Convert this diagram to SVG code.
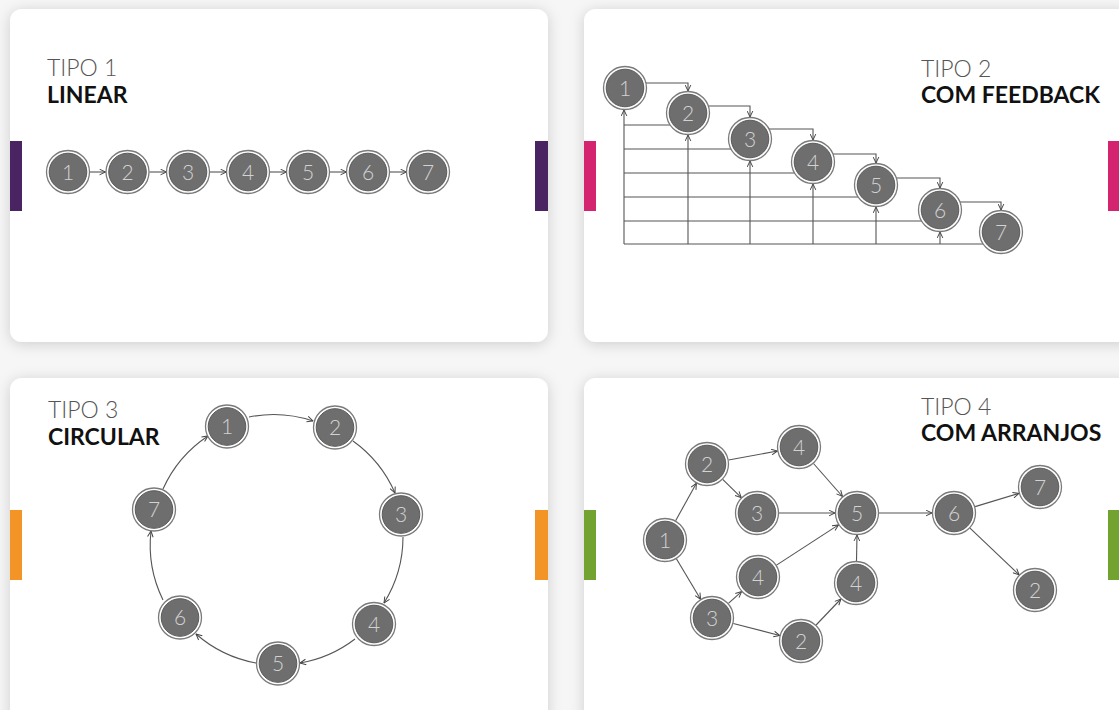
<svg xmlns="http://www.w3.org/2000/svg" width="1119" height="710" viewBox="0 0 1119 710">
<defs>
<filter id="sh" x="-10%" y="-10%" width="120%" height="120%">
<feDropShadow dx="0" dy="2" stdDeviation="7" flood-color="#000" flood-opacity="0.17"/>
</filter>
<marker id="ah" viewBox="0 0 10 10" refX="9.5" refY="5" markerWidth="7" markerHeight="7" markerUnits="userSpaceOnUse" orient="auto">
<path d="M1,1 L9.5,5 L1,9" fill="none" stroke="#444" stroke-width="1.4"/>
</marker>
<g id="nd">
<circle r="21.5" fill="#fff" stroke="#7a7a7a" stroke-width="1.3"/>
<circle r="18.8" fill="#6e6e6e" stroke="#5a5a5a" stroke-width="1"/>
</g>
</defs>
<style>
.card{fill:#fff;filter:url(#sh)}
.t1{font-family:Lato,"Open Sans",sans-serif;font-weight:300;font-size:23px;fill:#555}
.t2{font-family:Lato,"Open Sans",sans-serif;font-weight:700;font-size:23px;fill:#111}
.n{font-family:Lato,"Open Sans",sans-serif;font-weight:300;font-size:21px;fill:#d2d2d2;text-anchor:middle}
.c{fill:none;stroke:#555;stroke-width:1.1}
.ca{fill:none;stroke:#555;stroke-width:1.1;marker-end:url(#ah)}
</style>
<rect width="1119" height="710" fill="#f6f6f6"/>

<!-- cards -->
<g id="card1">
<rect class="card" x="10" y="9" width="538" height="333" rx="12"/>
<rect x="10" y="141" width="12" height="70" fill="#4a2363"/>
<rect x="535" y="141" width="13" height="70" fill="#4a2363"/>
<text class="t1" x="47" y="76">TIPO 1</text>
<text class="t2" x="47" y="103">LINEAR</text>
</g>
<g id="card2">
<rect class="card" x="584" y="9" width="550" height="333" rx="12"/>
<rect x="584" y="141" width="12" height="70" fill="#d5246f"/>
<rect x="1108" y="141" width="12" height="70" fill="#d5246f"/>
<text class="t1" x="921" y="77">TIPO 2</text>
<text class="t2" x="921" y="103">COM FEEDBACK</text>
</g>
<g id="card3">
<rect class="card" x="10" y="378" width="538" height="350" rx="12"/>
<rect x="10" y="510" width="12" height="70" fill="#f29426"/>
<rect x="535" y="510" width="13" height="70" fill="#f29426"/>
<text class="t1" x="48" y="418">TIPO 3</text>
<text class="t2" x="48" y="445">CIRCULAR</text>
</g>
<g id="card4">
<rect class="card" x="584" y="378" width="550" height="350" rx="12"/>
<rect x="584" y="510" width="12" height="70" fill="#72a22f"/>
<rect x="1108" y="510" width="12" height="70" fill="#72a22f"/>
<text class="t1" x="921" y="415">TIPO 4</text>
<text class="t2" x="921" y="441">COM ARRANJOS</text>
</g>

<!-- connectors -->
<g id="connectors">
<!-- linear -->
<path class="ca" d="M89.5,172 H105.5"/>
<path class="ca" d="M149.5,172 H166.5"/>
<path class="ca" d="M210,172 H226.5"/>
<path class="ca" d="M270,172 H286.5"/>
<path class="ca" d="M330,172 H346.5"/>
<path class="ca" d="M390,172 H406.5"/>
<!-- feedback: forward -->
<path class="ca" d="M640,83 H688 V91"/>
<path class="ca" d="M703,106 H750 V117"/>
<path class="ca" d="M765,129 H813 V140"/>
<path class="ca" d="M828,154 H876 V163"/>
<path class="ca" d="M891,178 H940 V188"/>
<path class="ca" d="M955,202 H1001 V210"/>
<!-- feedback: returns -->
<path class="c" d="M688,125 H624"/>
<path class="c" d="M750,149 H624"/>
<path class="c" d="M813,173 H624"/>
<path class="c" d="M876,197 H624"/>
<path class="c" d="M940,221 H624"/>
<path class="c" d="M1001,244 H624"/>
<path class="ca" d="M624,244 V110"/>
<path class="ca" d="M688,244 V135"/>
<path class="ca" d="M750,244 V161"/>
<path class="ca" d="M813,244 V184"/>
<path class="ca" d="M876,244 V207"/>
<path class="ca" d="M940,244 V232"/>
<!-- circular -->
<path class="ca" d="M249,417 A125,125 0 0 1 313,421"/>
<path class="ca" d="M353,441 A125,125 0 0 1 395,493"/>
<path class="ca" d="M403,537 A125,125 0 0 1 384,603"/>
<path class="ca" d="M355,639 A125,125 0 0 1 300,663"/>
<path class="ca" d="M256,663 A125,125 0 0 1 196,634"/>
<path class="ca" d="M163,600 A125,125 0 0 1 151,531"/>
<path class="ca" d="M163,489 A125,125 0 0 1 208,436"/>
<!-- arranjos -->
<path class="ca" d="M675.6,520.7 L696.4,483.3"/>
<path class="ca" d="M676.4,558.8 L700.6,599.2"/>
<path class="ca" d="M728.6,460 L777.4,451"/>
<path class="ca" d="M722.7,479.4 L741.3,497.6"/>
<path class="ca" d="M813.5,463.5 L842.5,496.5"/>
<path class="ca" d="M779,513 L835,513"/>
<path class="ca" d="M776.5,565.1 L838.5,524.9"/>
<path class="ca" d="M728.4,603.3 L741.6,591.6"/>
<path class="ca" d="M733.3,623.5 L779.7,635.5"/>
<path class="ca" d="M816.1,625 L840.9,599"/>
<path class="ca" d="M856.5,561 L857,535"/>
<path class="ca" d="M879,513 L932,513"/>
<path class="ca" d="M975.1,506.6 L1018.9,493.4"/>
<path class="ca" d="M970,528.2 L1019.1,574.8"/>
</g>

<!-- nodes: linear -->
<g id="l1"><use href="#nd" x="68" y="172"/><text class="n" x="68" y="179.5">1</text></g>
<g id="l2"><use href="#nd" x="127.5" y="172"/><text class="n" x="127.5" y="179.5">2</text></g>
<g id="l3"><use href="#nd" x="188" y="172"/><text class="n" x="188" y="179.5">3</text></g>
<g id="l4"><use href="#nd" x="248" y="172"/><text class="n" x="248" y="179.5">4</text></g>
<g id="l5"><use href="#nd" x="308" y="172"/><text class="n" x="308" y="179.5">5</text></g>
<g id="l6"><use href="#nd" x="368" y="172"/><text class="n" x="368" y="179.5">6</text></g>
<g id="l7"><use href="#nd" x="428" y="172"/><text class="n" x="428" y="179.5">7</text></g>

<!-- nodes: feedback -->
<g id="f1"><use href="#nd" x="625" y="88"/><text class="n" x="625" y="95.5">1</text></g>
<g id="f2"><use href="#nd" x="688" y="113"/><text class="n" x="688" y="120.5">2</text></g>
<g id="f3"><use href="#nd" x="750" y="139"/><text class="n" x="750" y="146.5">3</text></g>
<g id="f4"><use href="#nd" x="813" y="162"/><text class="n" x="813" y="169.5">4</text></g>
<g id="f5"><use href="#nd" x="876" y="185"/><text class="n" x="876" y="192.5">5</text></g>
<g id="f6"><use href="#nd" x="940" y="210"/><text class="n" x="940" y="217.5">6</text></g>
<g id="f7"><use href="#nd" x="1001" y="232"/><text class="n" x="1001" y="239.5">7</text></g>

<!-- nodes: circular -->
<g id="c1"><use href="#nd" x="227" y="426.5"/><text class="n" x="227" y="434">1</text></g>
<g id="c2"><use href="#nd" x="335" y="427.5"/><text class="n" x="335" y="435">2</text></g>
<g id="c3"><use href="#nd" x="401" y="514.5"/><text class="n" x="401" y="522">3</text></g>
<g id="c4"><use href="#nd" x="374" y="624"/><text class="n" x="374" y="631.5">4</text></g>
<g id="c5"><use href="#nd" x="278" y="663.5"/><text class="n" x="278" y="671">5</text></g>
<g id="c6"><use href="#nd" x="180" y="617.5"/><text class="n" x="180" y="625">6</text></g>
<g id="c7"><use href="#nd" x="154" y="509.5"/><text class="n" x="154" y="517">7</text></g>

<!-- nodes: arranjos -->
<g id="a1"><use href="#nd" x="665" y="540"/><text class="n" x="665" y="547.5">1</text></g>
<g id="a2a"><use href="#nd" x="707" y="464"/><text class="n" x="707" y="471.5">2</text></g>
<g id="a4a"><use href="#nd" x="799" y="447"/><text class="n" x="799" y="454.5">4</text></g>
<g id="a3a"><use href="#nd" x="757" y="513"/><text class="n" x="757" y="520.5">3</text></g>
<g id="a5"><use href="#nd" x="857" y="513"/><text class="n" x="857" y="520.5">5</text></g>
<g id="a4b"><use href="#nd" x="758" y="577"/><text class="n" x="758" y="584.5">4</text></g>
<g id="a3b"><use href="#nd" x="712" y="618"/><text class="n" x="712" y="625.5">3</text></g>
<g id="a2b"><use href="#nd" x="801" y="641"/><text class="n" x="801" y="648.5">2</text></g>
<g id="a4c"><use href="#nd" x="856" y="583"/><text class="n" x="856" y="590.5">4</text></g>
<g id="a6"><use href="#nd" x="954" y="513"/><text class="n" x="954" y="520.5">6</text></g>
<g id="a7"><use href="#nd" x="1040" y="487"/><text class="n" x="1040" y="494.5">7</text></g>
<g id="a2c"><use href="#nd" x="1035" y="590"/><text class="n" x="1035" y="597.5">2</text></g>
</svg>
